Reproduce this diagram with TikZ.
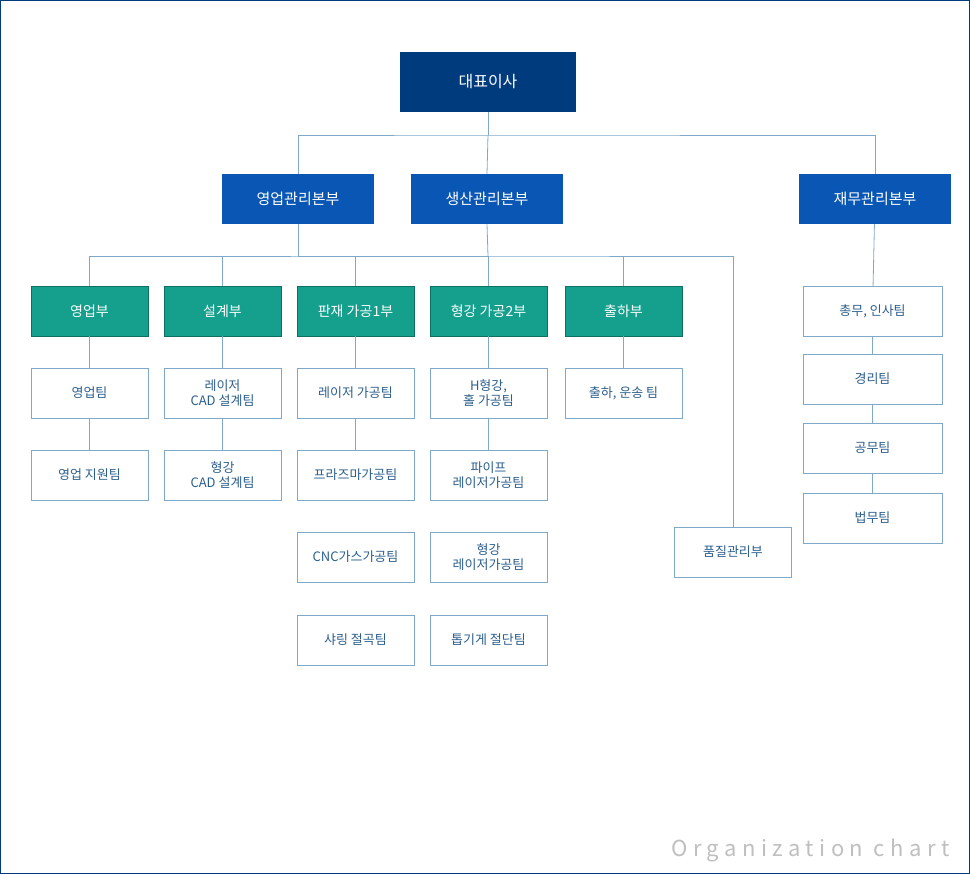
\documentclass[tikz,border=0pt]{standalone}
\usepackage{fontspec}
\newfontfamily\kr{Noto Sans CJK KR}
\usetikzlibrary{positioning}
\definecolor{navy}{HTML}{003B7E}
\definecolor{hqblue}{HTML}{0A56B4}
\definecolor{teal}{HTML}{14A08C}
\definecolor{linec}{HTML}{7FA9C9}
\definecolor{txt}{HTML}{2C5F8E}
\tikzset{
  top/.style={fill=navy, text=white, minimum width=176pt, minimum height=60pt, font=\kr\fontsize{16}{18}\selectfont},
  hq/.style={fill=hqblue, text=white, minimum width=152pt, minimum height=50pt, font=\kr\fontsize{15}{18}\selectfont},
  dept/.style={fill=teal, draw=teal!70!black, text=white, minimum width=117pt, minimum height=50pt, font=\kr\fontsize{14}{17}\selectfont},
  team/.style={draw=linec, fill=white, text=txt, minimum width=117pt, minimum height=50pt, align=center, font=\kr\fontsize{13}{15}\selectfont},
  wide/.style={team, minimum width=139pt},
  link/.style={linec, line width=0.8pt}
}
\begin{document}
\begin{tikzpicture}[x=1pt, y=-1pt]
\draw[navy, line width=1.2pt] (0.6,0.6) rectangle (969.4,873.4);

\node[top] (ceo) at (488,82) {대표이사};
\node[hq] (sal) at (298,199) {영업관리본부};
\node[hq] (pro) at (487,199) {생산관리본부};
\node[hq] (fin) at (875,199) {재무관리본부};

\node[dept] (d1) at (89.5,311) {영업부};
\node[dept] (d2) at (222.5,311) {설계부};
\node[dept] (d3) at (355.5,311) {판재 가공1부};
\node[dept] (d4) at (488.5,311) {형강 가공2부};
\node[dept] (d5) at (623.5,311) {출하부};
\node[team] (qa) at (733,552) {품질관리부};

\node[team] (t11) at (89.5,393) {영업팀};
\node[team] (t12) at (89.5,475) {영업 지원팀};
\node[team] (t21) at (222.5,393) {레이저\\CAD 설계팀};
\node[team] (t22) at (222.5,475) {형강\\CAD 설계팀};
\node[team] (t31) at (355.5,393) {레이저 가공팀};
\node[team] (t32) at (355.5,475) {프라즈마가공팀};
\node[team] (t33) at (355.5,557) {CNC가스가공팀};
\node[team] (t34) at (355.5,640) {샤링 절곡팀};
\node[team] (t41) at (488.5,393) {H형강,\\홀 가공팀};
\node[team] (t42) at (488.5,475) {파이프\\레이저가공팀};
\node[team] (t43) at (488.5,557) {형강\\레이저가공팀};
\node[team] (t44) at (488.5,640) {톱기게 절단팀};
\node[team] (t51) at (623.5,393) {출하, 운송 팀};

\node[wide] (f1) at (872.5,311) {총무, 인사팀};
\node[wide] (f2) at (872.5,379) {경리팀};
\node[wide] (f3) at (872.5,448) {공무팀};
\node[wide] (f4) at (872.5,518) {법무팀};

% top level
\coordinate (b1) at (488,135);
\draw[link] (ceo.south) -- (b1);
\draw[link] (sal.north) |- (b1) -| (fin.north);
\draw[link] (b1) -- (pro.north);

% production bus
\coordinate (b2) at (488,256);
\draw[link] (sal.south) |- (b2);
\draw[link] (pro.south) -- (b2);
\draw[link] (d1.north) |- (b2) -| (qa.north);
\foreach \d in {d2,d3,d4,d5} \draw[link] (\d.north) -- (\d.north |- b2);

% columns
\draw[link] (d1) -- (t11) (t11) -- (t12);
\draw[link] (d2) -- (t21) (t21) -- (t22);
\draw[link] (d3) -- (t31) (t31) -- (t32);
\draw[link] (d4) -- (t41) (t41) -- (t42);
\draw[link] (d5) -- (t51);
\draw[link] (fin) -- (f1) (f1) -- (f2) (f2) -- (f3) (f3) -- (f4);

\node[anchor=base east, text=black!25, font=\kr\fontsize{22}{24}\selectfont\addfontfeature{LetterSpace=25}] (title) at (953,856) {Organization chart};
\end{tikzpicture}
\end{document}
